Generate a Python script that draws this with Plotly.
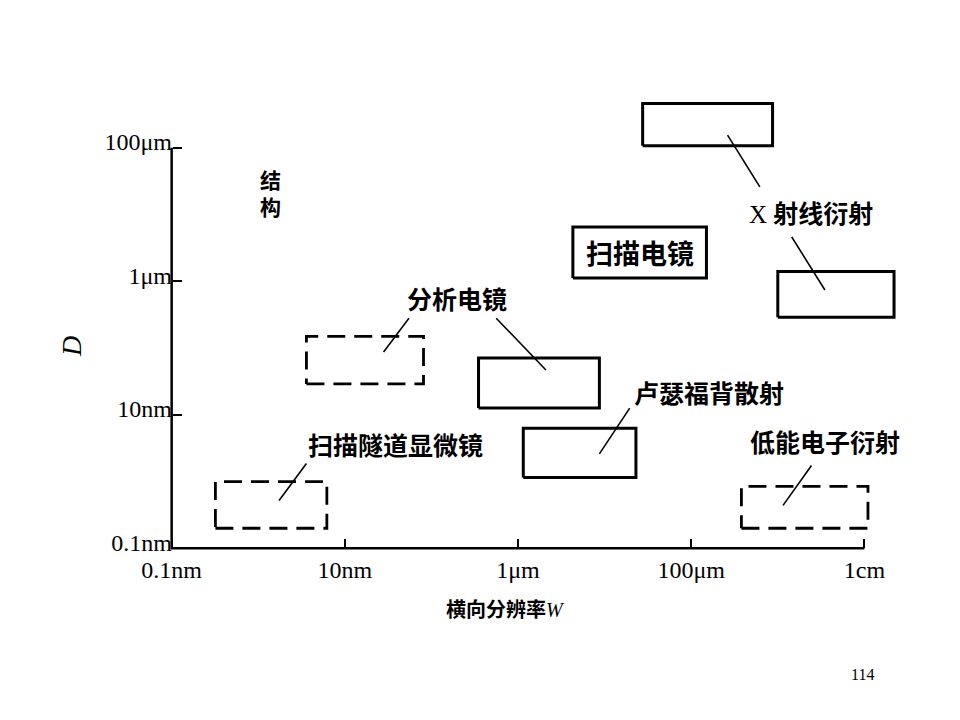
import numpy as np
import plotly.graph_objects as go

# ---- data (metres) ----
methods = ["扫描隧道显微镜", "分析电镜", "分析电镜", "卢瑟福背散射",
           "低能电子衍射", "X射线衍射", "X射线衍射", "扫描电镜"]
w_min = [3.2e-10, 3.6e-9, 3.5e-7, 1.15e-6, 3.8e-4, 2.75e-5, 1.0e-3, 4.3e-6]
w_max = [6.2e-9, 8.1e-8, 8.7e-6, 2.3e-5, 1.1e-2, 8.7e-4, 2.2e-2, 1.5e-4]
d_min = [2.0e-10, 2.9e-8, 1.26e-8, 1.15e-9, 2.0e-10, 1.07e-4, 2.9e-7, 1.12e-6]
d_max = [1.0e-9, 1.5e-7, 7.1e-8, 6.3e-9, 8.5e-10, 4.6e-4, 1.4e-6, 6.5e-6]
dashed = [True, True, False, False, True, False, False, False]

tick_vals = [1e-10, 1e-8, 1e-6, 1e-4, 1e-2]
x_tick_text = ["0.1nm", "10nm", "1μm", "100μm", "1cm"]
y_tick_vals = [1e-10, 1e-8, 1e-6, 1e-4]
y_tick_text = ["0.1nm", "10nm", "1μm", "100μm"]

# label texts and positions (metres)
label_text = ["X射线衍射", "分析电镜", "扫描隧道显微镜", "卢瑟福背散射", "低能电子衍射"]
label_w = [2.45e-3, 1.95e-7, 3.8e-8, 1.62e-4, 3.5e-3]
label_d = [1.1e-5, 5.6e-7, 3.6e-9, 2.2e-8, 4.0e-9]

# leader lines (metres): (w0, d0, w1, d1)
leaders = [
    (2.63e-4, 1.55e-4, 6.2e-4, 2.6e-5),
    (1.45e-3, 4.6e-6, 3.5e-3, 7.4e-7),
    (5.5e-8, 2.8e-7, 2.8e-8, 8.7e-8),
    (5.6e-7, 2.8e-7, 2.1e-6, 4.7e-8),
    (3.6e-9, 1.86e-9, 1.74e-9, 5.2e-10),
    (1.95e-5, 1.26e-8, 8.7e-6, 2.6e-9),
    (2.45e-3, 1.74e-9, 1.15e-3, 4.4e-10),
]

CJK = "Noto Sans CJK SC"
SERIF = "Liberation Serif"

fig = go.Figure()

# boxes
for i in range(len(methods)):
    xs = [w_min[i], w_max[i], w_max[i], w_min[i], w_min[i]]
    ys = [d_min[i], d_min[i], d_max[i], d_max[i], d_min[i]]
    fig.add_trace(go.Scatter(
        x=xs, y=ys, mode="lines", showlegend=False, hoverinfo="skip",
        line=dict(color="black", width=2.8 if dashed[i] else 3,
                  dash="18px,9px" if dashed[i] else "solid")))

# leader lines
for (w0, d0, w1, d1) in leaders:
    fig.add_trace(go.Scatter(x=[w0, w1], y=[d0, d1], mode="lines",
                             showlegend=False, hoverinfo="skip",
                             line=dict(color="black", width=1.6)))

# axis lines
fig.add_trace(go.Scatter(x=[tick_vals[0], tick_vals[0], tick_vals[-1]],
                         y=[y_tick_vals[-1], y_tick_vals[0], y_tick_vals[0]],
                         mode="lines", showlegend=False, hoverinfo="skip",
                         line=dict(color="black", width=2.5)))


def fmt(t):
    if t.startswith("X"):
        return (f"<span style='font-family:{SERIF}'>X </span><b>{t[1:]}</b>")
    return f"<b>{t}</b>"


# labels
for t, w, d in zip(label_text, label_w, label_d):
    fig.add_annotation(x=np.log10(w), y=np.log10(d), text=fmt(t),
                       xanchor="center", yanchor="middle",
                       showarrow=False, font=dict(family=CJK, size=25, color="black"))

# SEM label inside its box
sem = methods.index("扫描电镜")
fig.add_annotation(x=(np.log10(w_min[sem]) + np.log10(w_max[sem])) / 2,
                   y=(np.log10(d_min[sem]) + np.log10(d_max[sem])) / 2,
                   text="<b>扫描电镜</b>", showarrow=False,
                   xanchor="center", yanchor="middle",
                   font=dict(family=CJK, size=27, color="black"))

fig.update_layout(
    width=960, height=720,
    margin=dict(l=155, r=43, t=73, b=173),
    paper_bgcolor="white", plot_bgcolor="white",
    showlegend=False,
)

pw, ph = 762, 474
def pxp(x, y):
    return (x - 163) / pw, (555 - y) / ph

px, py = pxp(270, 192)
fig.add_annotation(x=px, y=py, xref="paper", yref="paper", text="<b>结<br>构</b>",
                   xanchor="center", yanchor="middle",
                   showarrow=False, font=dict(family=CJK, size=21, color="black"))

px, py = pxp(71, 347)
fig.add_annotation(x=px, y=py, xref="paper", yref="paper", text="<i>D</i>",
                   xanchor="center", yanchor="middle",
                   textangle=-90, showarrow=False,
                   font=dict(family=SERIF, size=28, color="black"))

px, py = pxp(505, 608)
fig.add_annotation(x=px, y=py, xref="paper", yref="paper",
                   text=f"<b>横向分辨率</b><span style='font-family:{SERIF}'><i>W</i></span>",
                   xanchor="center", yanchor="middle", showarrow=False,
                   font=dict(family=CJK, size=20, color="black"))

px, py = pxp(862, 674)
fig.add_annotation(x=px, y=py, xref="paper", yref="paper", text="114",
                   xanchor="center", yanchor="middle",
                   showarrow=False, font=dict(family=SERIF, size=16, color="black"))

fig.update_xaxes(type="log", range=[-10.1, -1.3], showgrid=False, zeroline=False,
                 showline=False, anchor="free", position=(555 - 548) / ph,
                 tickvals=tick_vals, ticktext=x_tick_text, ticks="inside",
                 ticklen=9, tickwidth=2, tickcolor="black", ticklabelstandoff=5,
                 tickfont=dict(family=SERIF, size=24, color="black"))
fig.update_yaxes(type="log", range=[-10.1, -3.0], showgrid=False, zeroline=False,
                 showline=False, anchor="free", position=(172 - 163) / pw,
                 tickvals=y_tick_vals, ticktext=y_tick_text, ticks="inside",
                 ticklen=9, tickwidth=2, tickcolor="black", ticklabelshift=-6,
                 tickfont=dict(family=SERIF, size=24, color="black"))

fig.write_html("out.html")
